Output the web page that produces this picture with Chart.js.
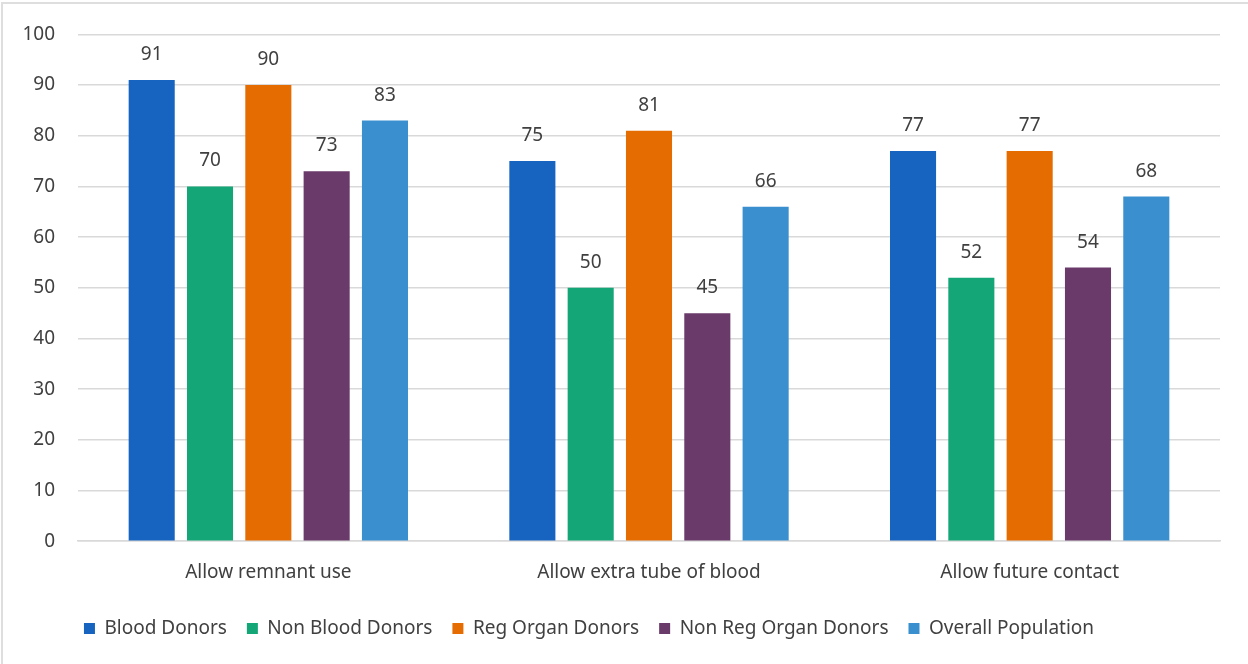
<!DOCTYPE html>
<html>
<head>
<meta charset="utf-8">
<script src="https://cdn.jsdelivr.net/npm/chart.js@4.4.1/dist/chart.umd.min.js"></script>
<style>
    html, body { margin: 0; padding: 0; background: #fff; overflow: hidden; }
    #cadre {
        position: absolute; left: 1px; top: 2px; width: 1400px; height: 800px;
        border-left: 2px solid #dedede; border-top: 2px solid #dedede;
    }
    #graphique { position: absolute; left: 0; top: 0; }
</style>
</head>
<body>
<div id="cadre"></div>
<canvas id="graphique" width="1248" height="664"></canvas>
<script>
// categories et series
var categories = ['Allow remnant use', 'Allow extra tube of blood', 'Allow future contact'];
var bloodDonors = [91, 75, 77];
var nonBloodDonors = [70, 50, 52];
var regOrganDonors = [90, 81, 77];
var nonRegOrganDonors = [73, 45, 54];
var overallPopulation = [83, 66, 68];

var police = '"Noto Sans", sans-serif';
var taille = 19;
var gris = '#404040';

// affiche la valeur au dessus de chaque barre
var etiquettes = {
    id: 'etiquettes',
    afterLayout: function (chart) {
        // legende un peu decalee vers la gauche
        chart.legend.left -= 21;
        chart.legend.right -= 21;
    },
    afterDatasetsDraw: function (chart) {
        var ctx = chart.ctx;
        ctx.save();
        ctx.font = taille + 'px ' + police;
        ctx.fillStyle = gris;
        ctx.textAlign = 'center';
        ctx.textBaseline = 'alphabetic';
        chart.data.datasets.forEach(function (ds, i) {
            chart.getDatasetMeta(i).data.forEach(function (barre, j) {
                ctx.fillText(ds.data[j], barre.x, barre.y - 20);
            });
        });
        ctx.restore();
    }
};

function serie(nom, valeurs, couleur) {
    return {
        label: nom,
        data: valeurs,
        backgroundColor: couleur,
        borderWidth: 0,
        categoryPercentage: 0.766,
        barPercentage: 0.79
    };
}

var donnees = {
    labels: categories,
    datasets: [
        serie('Blood Donors', bloodDonors, '#1764c0'),
        serie('Non Blood Donors', nonBloodDonors, '#14a676'),
        serie('Reg Organ Donors', regOrganDonors, '#e46c00'),
        serie('Non Reg Organ Donors', nonRegOrganDonors, '#6a3a6b'),
        serie('Overall Population', overallPopulation, '#3a8fce')
    ]
};

var option = {
    responsive: false,
    animation: false,
    layout: { padding: { top: 32, right: 28, left: 0, bottom: 16 } },
    plugins: {
        tooltip: { enabled: false },
        legend: {
            position: 'bottom',
            labels: {
                boxWidth: 11,
                boxHeight: 11,
                padding: 20,
                color: gris,
                font: { family: police, size: taille }
            }
        }
    },
    scales: {
        x: {
            // rapproche la legende de l'axe
            afterFit: function (axe) { axe.height -= 5; },
            grid: { display: false, drawTicks: false },
            border: { color: '#d9d9d9', width: 1.5 },
            ticks: { color: gris, padding: 20, font: { family: police, size: taille } }
        },
        y: {
            min: 0,
            max: 100,
            afterFit: function (axe) { axe.width = 78; },
            grid: { color: '#d9d9d9', lineWidth: 1.5, drawTicks: false },
            border: { display: false },
            ticks: { stepSize: 10, color: gris, padding: 23, font: { family: police, size: taille } }
        }
    }
};

var ctx = document.getElementById('graphique');
var myChart = new Chart(ctx, {
    type: 'bar',
    data: donnees,
    options: option,
    plugins: [etiquettes]
});
</script>
</body>
</html>
